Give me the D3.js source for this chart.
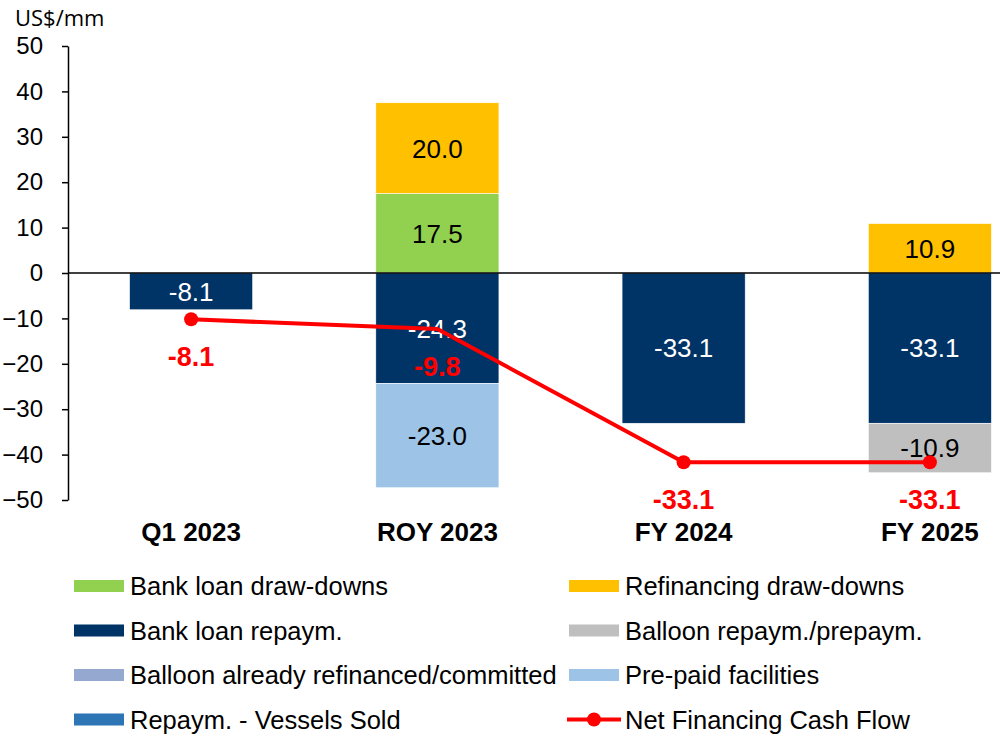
<!DOCTYPE html>
<html>
<head>
<meta charset="utf-8">
<script src="https://cdn.jsdelivr.net/npm/d3@7"></script>
<style>
  body { margin: 0; background: #fff; }
  svg { display: block; font-family: "Liberation Sans", Arial, sans-serif; }
</style>
</head>
<body>
<div id="container"></div>
<script>
(function(){
  "use strict";
  var categories = ["Q1 2023", "ROY 2023", "FY 2024", "FY 2025"];
  var seriesNames = ["Bank loan draw-downs", "Refinancing draw-downs", "Bank loan repaym.",
    "Balloon repaym./prepaym.", "Balloon already refinanced/committed", "Pre-paid facilities",
    "Repaym. - Vessels Sold"];
  var seriesColors = ["#92D050", "#FFC000", "#003366", "#BFBFBF", "#95A9D0", "#9DC3E6", "#2E75B6"];
  var bankDraw      = [0, 17.5, 0, 0];
  var refiDraw      = [0, 20.0, 0, 10.9];
  var bankRepaym    = [-8.1, -24.3, -33.1, -33.1];
  var balloonRepaym = [0, 0, 0, -10.9];
  var balloonRefi   = [0, 0, 0, 0];
  var prePaid       = [0, -23.0, 0, 0];
  var vesselsSold   = [0, 0, 0, 0];
  var netFlow       = [-8.1, -9.8, -33.1, -33.1];
  var netMarker     = [true, false, true, true];
  var yTicks = [50, 40, 30, 20, 10, 0, -10, -20, -30, -40, -50];

  var seriesValues = [bankDraw, refiDraw, bankRepaym, balloonRepaym, balloonRefi, prePaid, vesselsSold];
  var labelColors = ["#000", "#000", "#fff", "#000", "#000", "#000", "#fff"];

  var W = 1000, H = 739;
  var svg = d3.select("#container").append("svg").attr("width", W).attr("height", H);

  var x = d3.scaleBand().domain(categories).range([68, 1053]).paddingInner(0.5).paddingOuter(0.25);
  var y = d3.scaleLinear().domain([-50, 50]).range([500, 46]);
  // hidden secondary axis for the net line, sharing the zero
  var y2 = d3.scaleLinear().domain([-39.7, 39.7]).range([500, 46]);

  // stack positives up and negatives down
  var segs = [];
  categories.forEach(function(c, i){
    var pos = 0, neg = 0;
    seriesValues.forEach(function(vals, s){
      var v = vals[i];
      if (v === 0) return;
      var y0, y1;
      if (v > 0) { y0 = pos; y1 = pos + v; pos = y1; }
      else { y0 = neg; y1 = neg + v; neg = y1; }
      segs.push({cat: c, s: s, v: v, y0: y0, y1: y1});
    });
  });

  svg.append("g").selectAll("rect").data(segs).join("rect")
    .attr("x", function(d){ return x(d.cat); })
    .attr("width", x.bandwidth())
    .attr("y", function(d){ return y(Math.max(d.y0, d.y1)); })
    .attr("height", function(d){ return Math.abs(y(d.y0) - y(d.y1)); })
    .attr("fill", function(d){ return seriesColors[d.s]; })
    .attr("stroke", "#fff").attr("stroke-width", 0.6);

  svg.append("g").selectAll("text").data(segs).join("text")
    .attr("x", function(d){ return x(d.cat) + x.bandwidth() / 2; })
    .attr("y", function(d){ return y((d.y0 + d.y1) / 2); })
    .attr("dy", "0.36em")
    .attr("text-anchor", "middle")
    .attr("font-size", 26)
    .attr("fill", function(d){ return labelColors[d.s]; })
    .text(function(d){ return d.v.toFixed(1); });

  // y axis
  var yAxis = d3.axisLeft(y).tickValues(yTicks).tickSize(6).tickSizeOuter(0).tickPadding(19);
  var gy = svg.append("g").attr("transform", "translate(68,0)").call(yAxis);
  gy.select(".domain").attr("stroke", "#000").attr("stroke-width", 1.5);
  gy.selectAll(".tick line").attr("stroke", "#000").attr("stroke-width", 1.5);
  gy.selectAll(".tick text").attr("font-size", 24).attr("fill", "#000")
    .attr("font-family", "'Liberation Sans', Arial, sans-serif");

  // zero line
  svg.append("line").attr("x1", 68).attr("x2", W).attr("y1", y(0)).attr("y2", y(0))
    .attr("stroke", "#000").attr("stroke-width", 1.5);

  svg.append("text").attr("x", 15).attr("y", 26).attr("font-size", 22)
    .attr("font-family", "'Open Sans', sans-serif").text("US$/mm");

  // category labels
  svg.append("g").selectAll("text").data(categories).join("text")
    .attr("x", function(c){ return x(c) + x.bandwidth() / 2; })
    .attr("y", 541).attr("text-anchor", "middle")
    .attr("font-size", 26).attr("font-weight", "bold")
    .text(function(c){ return c; });

  // net financing line
  var line = d3.line()
    .x(function(d, i){ return x(categories[i]) + x.bandwidth() / 2; })
    .y(function(d){ return y2(d); });
  svg.append("path").datum(netFlow).attr("d", line)
    .attr("fill", "none").attr("stroke", "#FF0000").attr("stroke-width", 4);
  netFlow.forEach(function(v, i){
    var cx = x(categories[i]) + x.bandwidth() / 2;
    if (netMarker[i]) {
      svg.append("circle").attr("cx", cx).attr("cy", y2(v)).attr("r", 7).attr("fill", "#FF0000");
    }
    svg.append("text").attr("x", cx).attr("y", y2(v) + 37).attr("dy", "0.36em")
      .attr("text-anchor", "middle").attr("font-size", 27).attr("font-weight", "bold")
      .attr("fill", "#FF0000").text(v.toFixed(1));
  });

  // legend
  var leg = svg.append("g");
  d3.range(8).forEach(function(k){
    var col = k % 2, row = Math.floor(k / 2);
    var lx = col === 0 ? 74 : 569, ly = 586 + row * 44.5;
    var g = leg.append("g");
    if (k < 7) {
      g.append("rect").attr("x", lx).attr("y", ly - 6).attr("width", 50).attr("height", 12)
        .attr("fill", seriesColors[k]);
    } else {
      g.append("line").attr("x1", lx - 2).attr("x2", lx + 52).attr("y1", ly).attr("y2", ly)
        .attr("stroke", "#FF0000").attr("stroke-width", 4);
      g.append("circle").attr("cx", lx + 25).attr("cy", ly).attr("r", 7).attr("fill", "#FF0000");
    }
    g.append("text").attr("x", lx + 56).attr("y", ly).attr("dy", "0.36em")
      .attr("font-size", 25.5).text(k < 7 ? seriesNames[k] : "Net Financing Cash Flow");
  });
})();
</script>
</body>
</html>
